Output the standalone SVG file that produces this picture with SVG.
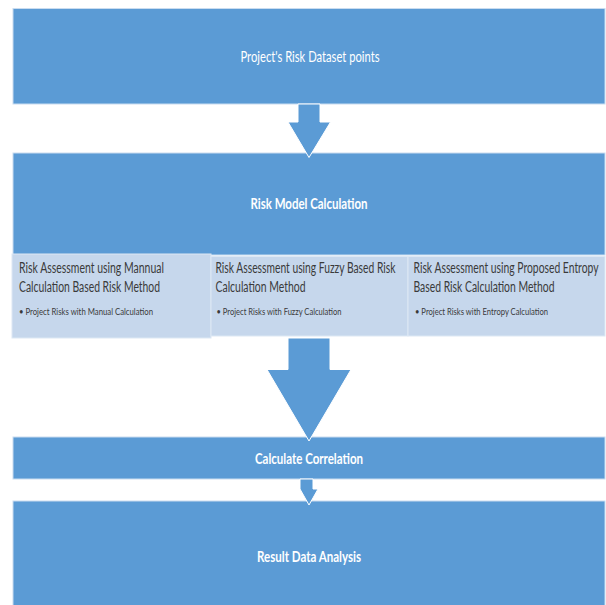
<svg xmlns="http://www.w3.org/2000/svg" width="606" height="605" viewBox="0 0 606 605">
<style>
.box{fill:#5b9bd5;stroke:#c9dcf0;stroke-width:1}
.sub{fill:#c6d7ec;stroke:#dde8f4;stroke-width:1}
.arrow{fill:#5b9bd5;stroke:#ffffff;stroke-width:1}
.wt{font-family:Lato,"Liberation Sans",Arial,sans-serif;fill:#ffffff;font-size:15px;text-anchor:middle}
.bt{font-weight:bold}
.st{font-family:Lato,"Liberation Sans",Arial,sans-serif;fill:#3a3a3a;font-size:15px}
.bl{font-family:Lato,"Liberation Sans",Arial,sans-serif;fill:#3a3a3a;font-size:9.5px}
</style>
<rect width="606" height="605" fill="#ffffff"/>
<g id="node-dataset">
<rect class="box" x="13" y="8.5" width="592" height="95.5"/>
<text class="wt" x="310" y="62" textLength="139" lengthAdjust="spacingAndGlyphs">Project's Risk Dataset points</text>
</g>
<g id="node-riskmodel">
<rect class="box" x="13" y="153" width="592" height="102"/>
<text class="wt bt" x="309" y="208.5" textLength="117" lengthAdjust="spacingAndGlyphs">Risk Model Calculation</text>
</g>
<g id="node-manual">
<rect class="sub" x="12" y="254" width="199" height="84"/>
<text class="st" transform="translate(19,272.5) scale(0.7,1)" textLength="207" lengthAdjust="spacingAndGlyphs">Risk Assessment using Mannual</text>
<text class="st" transform="translate(19,291.5) scale(0.7,1)" textLength="201.4" lengthAdjust="spacingAndGlyphs">Calculation Based Risk Method</text>
<text class="bl" transform="translate(19,315) scale(0.7,1)" textLength="191.4" lengthAdjust="spacingAndGlyphs">• Project Risks with Manual Calculation</text>
</g>
<g id="node-fuzzy">
<rect class="sub" x="211" y="256.5" width="197" height="79.5"/>
<text class="st" transform="translate(215.5,272.5) scale(0.7,1)" textLength="257" lengthAdjust="spacingAndGlyphs">Risk Assessment using Fuzzy Based Risk</text>
<text class="st" transform="translate(215.5,291.5) scale(0.7,1)" textLength="128.6" lengthAdjust="spacingAndGlyphs">Calculation Method</text>
<text class="bl" transform="translate(216.5,315) scale(0.7,1)" textLength="178.6" lengthAdjust="spacingAndGlyphs">• Project Risks with Fuzzy Calculation</text>
</g>
<g id="node-entropy">
<rect class="sub" x="408" y="256.5" width="197" height="79.5"/>
<text class="st" transform="translate(413.5,272.5) scale(0.7,1)" textLength="264.3" lengthAdjust="spacingAndGlyphs">Risk Assessment using Proposed Entropy</text>
<text class="st" transform="translate(413.5,291.5) scale(0.7,1)" textLength="201.4" lengthAdjust="spacingAndGlyphs">Based Risk Calculation Method</text>
<text class="bl" transform="translate(415,315) scale(0.7,1)" textLength="190" lengthAdjust="spacingAndGlyphs">• Project Risks with Entropy Calculation</text>
</g>
<g id="node-correlation">
<rect class="box" x="13" y="437" width="592" height="42"/>
<text class="wt bt" x="309" y="463.5" textLength="108" lengthAdjust="spacingAndGlyphs">Calculate Correlation</text>
</g>
<g id="node-result">
<rect class="box" x="13" y="501" width="592" height="110"/>
<text class="wt bt" x="309" y="562" textLength="104" lengthAdjust="spacingAndGlyphs">Result Data Analysis</text>
</g>
<g id="connectors">
<polygon class="arrow" points="298,104 320,104 320,122 330.5,122 309,157.5 288,122 298,122"/>
<polygon class="arrow" points="288,338 330,338 330,369.5 351,369.5 309,441 267,369.5 288,369.5"/>
<polygon class="arrow" points="300,479 313,479 313,489 318,489 309,505 300,489 300,489"/>
</g>
</svg>
